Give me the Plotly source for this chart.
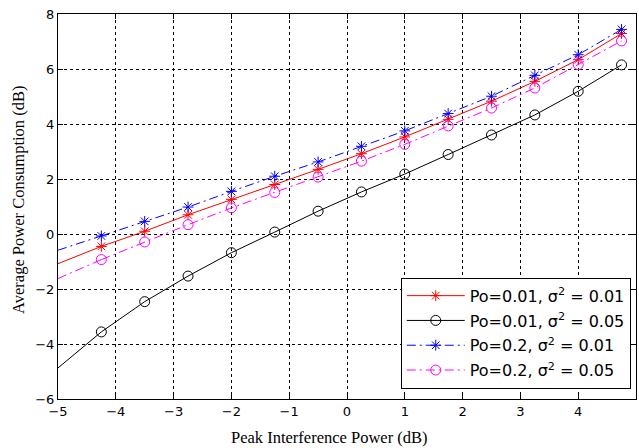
import plotly.graph_objects as go

# Peak interference power (dB); the curves start at -5 and carry a marker every 0.75 dB from -4.25
x_db = [-5, -4.25, -3.5, -2.75, -2, -1.25, -0.5, 0.25, 1, 1.75, 2.5, 3.25, 4, 4.75]

# Average power consumption (dB) per setting
p001_s001 = [-1.08, -0.45, 0.10, 0.70, 1.26, 1.80, 2.35, 2.92, 3.53, 4.17, 4.83, 5.55, 6.34, 7.29]
p001_s005 = [-4.87, -3.56, -2.46, -1.53, -0.68, 0.07, 0.83, 1.53, 2.18, 2.89, 3.60, 4.33, 5.19, 6.15]
p02_s001 = [-0.59, -0.07, 0.46, 0.98, 1.55, 2.10, 2.62, 3.19, 3.75, 4.38, 5.01, 5.77, 6.52, 7.44]
p02_s005 = [-1.62, -0.93, -0.29, 0.34, 0.95, 1.51, 2.07, 2.65, 3.26, 3.93, 4.58, 5.31, 6.16, 7.02]

x_ticks = [-5, -4, -3, -2, -1, 0, 1, 2, 3, 4, 5]
y_ticks = [-6, -4, -2, 0, 2, 4, 6, 8]

series = [
    ("Po=0.01, σ<sup>2</sup> = 0.01", p001_s001, "#ff0000", "solid", "asterisk-open", 9),
    ("Po=0.01, σ<sup>2</sup> = 0.05", p001_s005, "#000000", "solid", "circle-open", 10),
    ("Po=0.2, σ<sup>2</sup> = 0.01", p02_s001, "#0000ff", "9px,4px,2px,4px", "asterisk-open", 9),
    ("Po=0.2, σ<sup>2</sup> = 0.05", p02_s005, "#ff00ff", "9px,4px,2px,4px", "circle-open", 10),
]

fig = go.Figure()
for i, (name, ys, color, dash, symbol, msize) in enumerate(series):
    group = f"g{i}"
    # leading segment without a marker
    fig.add_trace(go.Scatter(
        x=x_db[:2], y=ys[:2], mode="lines", showlegend=False, hoverinfo="skip",
        legendgroup=group, line=dict(color=color, width=1, dash=dash),
    ))
    fig.add_trace(go.Scatter(
        x=x_db[1:], y=ys[1:], mode="lines+markers", name=name, legendgroup=group,
        line=dict(color=color, width=1, dash=dash),
        marker=dict(symbol=symbol, size=msize, color=color,
                    line=dict(color=color, width=1)),
    ))

axis_common = dict(
    showline=True, linecolor="black", linewidth=1, mirror="allticks",
    ticks="inside", ticklen=5, tickcolor="black",
    showgrid=True, gridcolor="black", gridwidth=1, griddash="dot",
    zeroline=False,
    tickfont=dict(family="DejaVu Sans", size=13, color="black"),
)

fig.update_xaxes(range=[-5, 5], tickvals=x_ticks, **axis_common)
fig.update_yaxes(range=[-6, 8], tickvals=y_ticks, **axis_common)

title_font = dict(family="Liberation Serif, Times New Roman", size=16.5, color="black")
fig.add_annotation(
    text="Peak Interference Power (dB)", xref="paper", yref="paper",
    x=0.469, y=-0.099, xanchor="center", yanchor="middle",
    showarrow=False, font=title_font,
)
fig.add_annotation(
    text="Average Power Consumption (dB)", xref="paper", yref="paper",
    x=-0.0675, y=0.517, xanchor="center", yanchor="middle", textangle=-90,
    showarrow=False, font=title_font,
)

fig.update_layout(
    width=639, height=448,
    margin=dict(l=58, r=3, t=14, b=49),
    paper_bgcolor="white", plot_bgcolor="white",
    legend=dict(
        x=0.593, y=0.315, xanchor="left", yanchor="top",
        bgcolor="white", bordercolor="black", borderwidth=1,
        font=dict(family="DejaVu Sans", size=16, color="black"),
        itemwidth=58, tracegroupgap=1,
    ),
)

fig.write_html("out.html")
